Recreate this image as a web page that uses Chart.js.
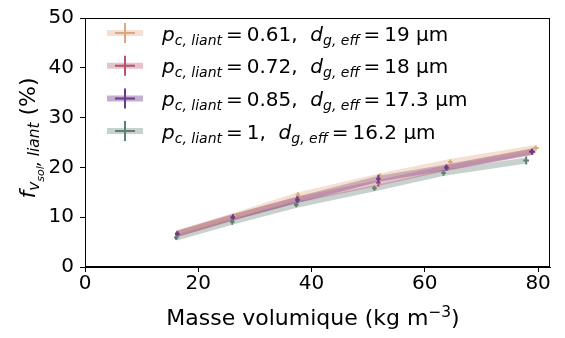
<!DOCTYPE html>
<html>
<head>
<meta charset="utf-8">
<script src="https://cdn.jsdelivr.net/npm/chart.js@4.4.1/dist/chart.umd.min.js"></script>
<style>
  html, body { margin: 0; padding: 0; background: #fff; }
  #wrap { width: 565px; height: 338px; }
</style>
</head>
<body>
<div id="wrap"><canvas id="graphe"></canvas></div>
<script>
// donnees
var xTicks = [0, 20, 40, 60, 80];
var yTicks = [0, 10, 20, 30, 40, 50];

var pcLiant = ['0.61', '0.72', '0.85', '1'];
var dgEff = ['19', '18', '17.3', '16.2'];

var xOrange = [16.3, 26.2, 37.6, 52.1, 64.5, 79.6];
var yOrange = [6.8, 10.2, 14.4, 18.2, 21.1, 23.9];
var xRouge = [16.3, 26.1, 37.5, 51.8, 63.9, 79.0];
var yRouge = [6.6, 9.9, 13.5, 16.9, 19.9, 23.1];
var xViolet = [16.3, 26.1, 37.5, 51.8, 63.8, 78.9];
var yViolet = [6.7, 10.0, 13.5, 17.7, 20.0, 23.2];
var xVert = [16.1, 26.0, 37.3, 51.1, 63.3, 77.9];
var yVert = [5.9, 9.1, 12.5, 15.8, 18.9, 21.4];

var yErr = [
  [0.5, 0.5, 0.6, 0.6, 0.5, 0.5],
  [0.5, 0.5, 0.6, 0.8, 0.5, 0.6],
  [0.5, 0.6, 0.7, 0.8, 0.6, 0.6],
  [0.5, 0.6, 0.5, 0.5, 0.6, 0.8]
];
var xErr = [0.4, 0.4, 0.4, 0.4, 0.4, 0.5];

var couleurs = ['rgb(221,167,127)', 'rgb(180,84,110)', 'rgb(106,58,138)', 'rgb(95,127,114)'];
var couleursAlpha = ['rgba(221,167,127,0.35)', 'rgba(180,84,110,0.35)', 'rgba(106,58,138,0.4)', 'rgba(95,127,114,0.35)'];

function points(xs, ys) {
  return xs.map(function (x, i) { return { x: x, y: ys[i] }; });
}

var series = [points(xOrange, yOrange), points(xRouge, yRouge), points(xViolet, yViolet), points(xVert, yVert)];

var police = "'DejaVu Sans', sans-serif";

// petit texte "mathematique" : morceaux italiques, indices
function taillePour(m, taille) {
  return taille * (m.sub === 2 ? 0.5 : (m.sub || m.sup) ? 0.7 : 1);
}
function largeur(ctx, morceaux, taille) {
  var w = 0;
  morceaux.forEach(function (m) {
    ctx.font = (m.it ? 'italic ' : '') + taillePour(m, taille) + 'px ' + police;
    w += ctx.measureText(m.t).width;
  });
  return w;
}
function ecrire(ctx, morceaux, x, y, taille) {
  morceaux.forEach(function (m) {
    var dy = 0;
    if (m.sub === 2) dy = taille * 0.4;
    else if (m.sub) dy = taille * 0.2;
    else if (m.sup) dy = -taille * 0.38;
    ctx.font = (m.it ? 'italic ' : '') + taillePour(m, taille) + 'px ' + police;
    ctx.fillText(m.t, x, y + dy);
    x += ctx.measureText(m.t).width;
  });
}

var barresErreur = {
  id: 'barresErreur',
  afterDatasetsDraw: function (chart) {
    var ctx = chart.ctx, sx = chart.scales.x, sy = chart.scales.y;
    ctx.save();
    ctx.lineWidth = 2;
    series.forEach(function (pts, k) {
      ctx.strokeStyle = couleurs[k];
      pts.forEach(function (p, i) {
        var px = sx.getPixelForValue(p.x), py = sy.getPixelForValue(p.y);
        ctx.beginPath();
        ctx.moveTo(px, sy.getPixelForValue(p.y - yErr[k][i]));
        ctx.lineTo(px, sy.getPixelForValue(p.y + yErr[k][i]));
        ctx.moveTo(sx.getPixelForValue(p.x - xErr[i]), py);
        ctx.lineTo(sx.getPixelForValue(p.x + xErr[i]), py);
        ctx.stroke();
      });
    });
    ctx.restore();
  }
};

var cadreEtTextes = {
  id: 'cadreEtTextes',
  afterDraw: function (chart) {
    var ctx = chart.ctx, a = chart.chartArea;
    ctx.save();
    // cadre
    ctx.strokeStyle = '#000';
    ctx.lineWidth = 1;
    ctx.strokeRect(a.left + 0.5, a.top + 0.5, a.right - a.left - 1, a.bottom - a.top - 1);

    ctx.fillStyle = '#000';
    ctx.textBaseline = 'alphabetic';
    ctx.textAlign = 'left';

    // legende
    for (var k = 0; k < 4; k++) {
      var yc = 33 + k * 32.7;
      ctx.strokeStyle = couleursAlpha[k];
      ctx.lineWidth = 6;
      ctx.beginPath(); ctx.moveTo(107, yc); ctx.lineTo(143, yc); ctx.stroke();
      ctx.strokeStyle = couleurs[k];
      ctx.lineWidth = 2;
      ctx.beginPath();
      ctx.moveTo(125, yc - 10); ctx.lineTo(125, yc + 10);
      ctx.moveTo(115, yc); ctx.lineTo(135, yc);
      ctx.stroke();
      ecrire(ctx, [
        { t: 'p', it: true },
        { t: 'c, liant', it: true, sub: 1 },
        { t: '\u2009=\u2009' + pcLiant[k] + ',  ' },
        { t: 'd', it: true },
        { t: 'g, eff', it: true, sub: 1 },
        { t: '\u2009=\u2009' + dgEff[k] + ' µm' }
      ], 162, yc + 7.5, 20);
    }

    // titre axe x
    var titreX = [{ t: 'Masse volumique (kg m' }, { t: '\u22123', sup: true }, { t: ')' }];
    var wx = largeur(ctx, titreX, 22);
    ecrire(ctx, titreX, 313 - wx / 2, 325, 22);

    // titre axe y
    var titreY = [
      { t: 'f', it: true },
      { t: 'v', it: true, sub: 1 },
      { t: 'sol', it: true, sub: 2 },
      { t: ', liant', it: true, sub: 1 },
      { t: ' (%)' }
    ];
    var wy = largeur(ctx, titreY, 22);
    ctx.translate(35, 138);
    ctx.rotate(-Math.PI / 2);
    ecrire(ctx, titreY, -wy / 2, 0, 22);
    ctx.restore();
  }
};

var ctx = document.getElementById('graphe');
var graphe = new Chart(ctx, {
  type: 'scatter',
  data: {
    datasets: series.map(function (pts, k) {
      return {
        label: 'pc = ' + pcLiant[k],
        data: pts,
        showLine: true,
        borderColor: couleursAlpha[k],
        borderWidth: 6,
        pointRadius: 0,
        fill: false
      };
    })
  },
  options: {
    responsive: true,
    maintainAspectRatio: false,
    animation: false,
    layout: { padding: { left: 0, right: 15, top: 6, bottom: 0 } },
    plugins: { legend: { display: false }, tooltip: { enabled: false } },
    scales: {
      x: {
        type: 'linear', min: 0, max: 82.1,
        afterBuildTicks: function (s) { s.ticks = xTicks.map(function (v) { return { value: v }; }); },
        afterFit: function (s) { s.height = 71; },
        grid: { drawOnChartArea: false, drawTicks: true, tickLength: 5, color: '#000' },
        border: { display: true, color: '#000' },
        ticks: { color: '#000', font: { family: police, size: 20 }, padding: 0, maxRotation: 0 }
      },
      y: {
        type: 'linear', min: 0, max: 50,
        afterBuildTicks: function (s) { s.ticks = yTicks.map(function (v) { return { value: v }; }); },
        afterFit: function (s) { s.width = 85; },
        grid: { drawOnChartArea: false, drawTicks: true, tickLength: 5, color: '#000' },
        border: { display: true, color: '#000' },
        ticks: { color: '#000', font: { family: police, size: 20 }, padding: 6 }
      }
    }
  },
  plugins: [barresErreur, cadreEtTextes]
});
</script>
</body>
</html>
